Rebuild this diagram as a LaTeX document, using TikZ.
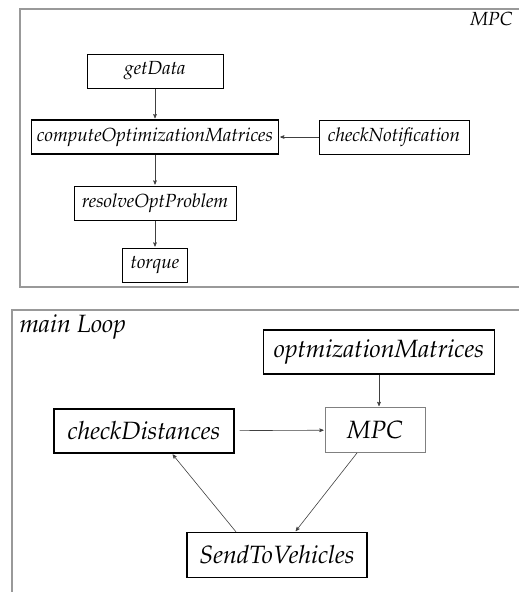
\documentclass[tikz,border=0pt]{standalone}
\usepackage[T1]{fontenc}
\usepackage{mathpazo}
\usetikzlibrary{arrows,positioning}

\begin{document}
\begin{tikzpicture}
    [x=1pt,y=-1pt,>=stealth',shorten >=1pt,on grid,
     blk/.style={draw,line width=1pt,font=\fontsize{19}{21}\selectfont\itshape,minimum height=34pt,inner sep=2pt},
     bigblk/.style={blk,line width=1.3pt,font=\fontsize{25}{27}\selectfont\itshape,minimum height=44pt},
     frame/.style={draw=gray!80,line width=1.5pt},
     link/.style={->,draw=black!75,line width=0.6pt}]

    \useasboundingbox (0,0) rectangle (519,592);

    % MPC block
    \draw[frame] (20,9) rectangle (530,287);
    \node[anchor=north east,font=\fontsize{19}{21}\selectfont\itshape] (mpcTitle) at (516,9) {MPC};

    \node[blk,minimum width=136pt] (getData) at (155,71) {getData};
    \node[blk,line width=1.5pt,minimum width=247pt] (compute) [below=66pt of getData] {computeOptimizationMatrices};
    \node[blk,minimum width=150pt] (checkNot) at (394,137) {checkNotification};
    \node[blk,minimum width=162pt] (resolve) [below=66pt of compute] {resolveOptProblem};
    \node[blk,minimum width=65pt] (torque) [below=62pt of resolve] {torque};

    \path
    (getData) edge [link] (compute)
    (checkNot) edge [link] (compute)
    (compute) edge [link] (resolve)
    (resolve) edge [link] (torque)
    ;

    % main loop
    \draw[frame] (12,310) rectangle (530,600);
    \node[anchor=north west,font=\fontsize{25}{27}\selectfont\itshape] (loopTitle) at (16,311) {main Loop};

    \node[bigblk,minimum width=231pt] (optMat) at (379,352) {optmizationMatrices};
    \node[bigblk,minimum width=180pt] (checkDist) at (144,431) {checkDistances};
    \node[bigblk,draw=gray,line width=0.8pt,minimum width=100pt,minimum height=45pt] (mpc) at (375,430) {MPC};
    \node[bigblk,minimum width=180pt,minimum height=45pt] (send) at (277,555) {SendToVehicles};

    \path
    (optMat.south) edge [link] (optMat.south |- mpc.north)
    (checkDist) edge [link,shorten <=5pt] (mpc)
    (mpc) edge [link] (send)
    (send.north -| 236,0) edge [link] (checkDist.south -| 172,0)
    ;

  \end{tikzpicture}
\end{document}
